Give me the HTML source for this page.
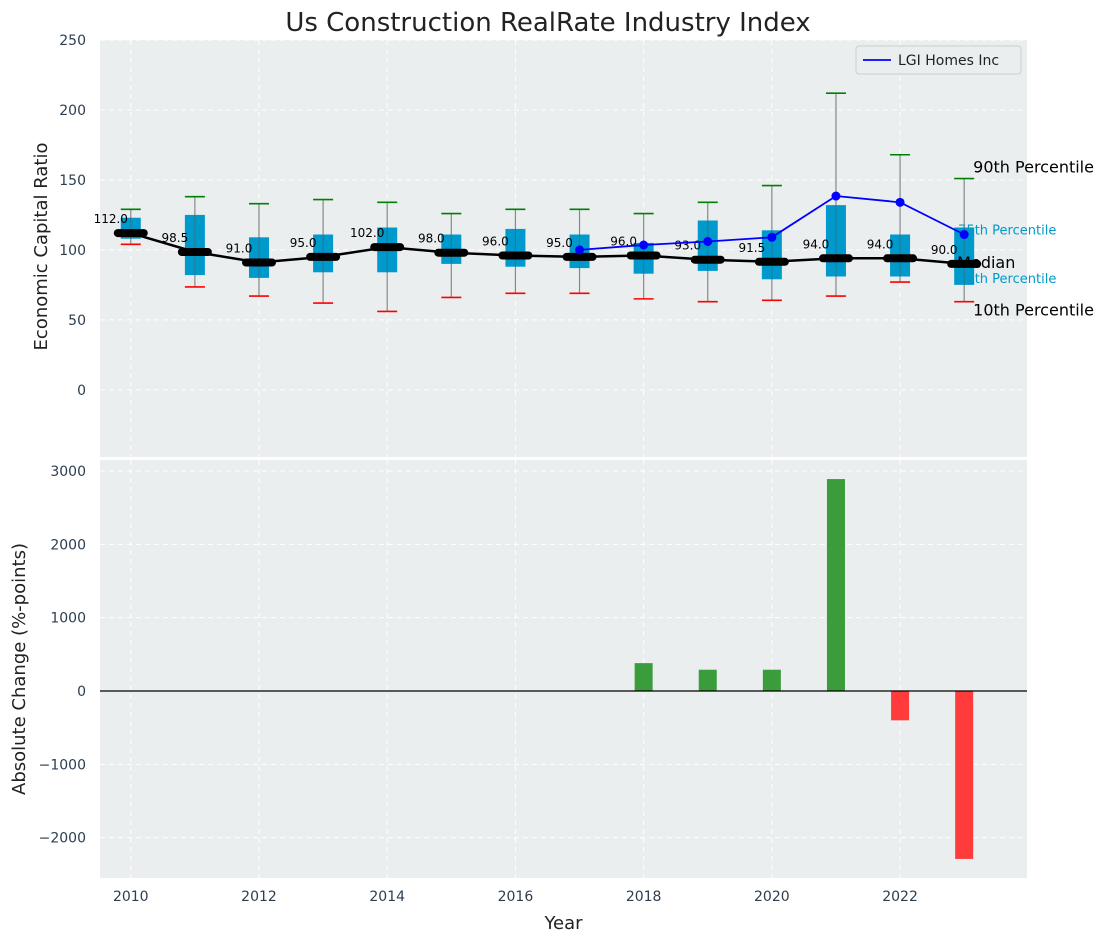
<!DOCTYPE html>
<html><head><meta charset="utf-8"><style>
body{margin:0;background:#fff;font-family:"Liberation Sans","DejaVu Sans",sans-serif}
svg text{font-family:"DejaVu Sans","Liberation Sans",sans-serif}
</style></head><body>
<svg id="c" width="1107" height="942" xmlns="http://www.w3.org/2000/svg">
<text x="548" y="31" font-size="26" text-anchor="middle" fill="#222">Us Construction RealRate Industry Index</text>
<g id="topPanel"></g>
<g id="botPanel"></g>
</svg>
<script>
const years=[2010,2011,2012,2013,2014,2015,2016,2017,2018,2019,2020,2021,2022,2023];
const medians=[112,98.5,91,95,102,98,96,95,96,93,91.5,94,94,90];
const p75=[123,125,109,111,116,111,115,111,105,121,114,132,111,116];
const p25=[108,82,80,84,84,90,88,87,83,85,79,81,81,75];
const p90=[129,138,133,136,134,126,129,129,126,134,146,212,168,151];
const p10=[104,73.5,67,62,56,66,69,69,65,63,64,67,77,63];
const lgiYears=[2017,2018,2019,2020,2021,2022,2023];
const lgiValues=[100,103.5,106,109,138.5,134,111];
const changeYears=[2018,2019,2020,2021,2022,2023];
const changeValues=[380,290,290,2890,-400,-2290];
const topTicks=[0,50,100,150,200,250];
const botTicks=[-2000,-1000,0,1000,2000,3000];
const xTicks=[2010,2012,2014,2016,2018,2020,2022];

const NS="http://www.w3.org/2000/svg";
const L=100,R=1027;
const xMin=2009.52,xMax=2023.98;
const X=v=>L+(v-xMin)/(xMax-xMin)*(R-L);
const tT=40,tB=457,tMin=-48,tMax=250;
const Yt=v=>tB-(v-tMin)/(tMax-tMin)*(tB-tT);
const bT=460,bB=878,bMin=-2550,bMax=3150;
const Yb=v=>bB-(v-bMin)/(bMax-bMin)*(bB-bT);
function el(p,tag,a,txt){const e=document.createElementNS(NS,tag);for(const k in a)e.setAttribute(k,a[k]);if(txt!==undefined)e.textContent=txt;p.appendChild(e);return e;}
const topG=document.getElementById('topPanel'),botG=document.getElementById('botPanel');
const tick={fill:"#2c3e50","font-size":14};

let bg=el(topG,'rect',{x:L,y:tT,width:R-L,height:tB-tT,fill:"#eaeeef"});


let bg2=el(botG,'rect',{x:L,y:bT,width:R-L,height:bB-bT,fill:"#eaeeef"});


xTicks.forEach(t=>{
  el(topG,'line',{x1:X(t),x2:X(t),y1:tT,y2:tB,stroke:"#fff","stroke-dasharray":"5,4","stroke-width":1});
  el(botG,'line',{x1:X(t),x2:X(t),y1:bT,y2:bB,stroke:"#fff","stroke-dasharray":"5,4","stroke-width":1});
  const tx=el(botG,'text',Object.assign({x:X(t),y:bB+23,"text-anchor":"middle"},tick),String(t));
  
  
});
topTicks.forEach(t=>{
  el(topG,'line',{x1:L,x2:R,y1:Yt(t),y2:Yt(t),stroke:"#fff","stroke-dasharray":"5,4","stroke-width":1});
  const tx=el(topG,'text',Object.assign({x:L-14,y:Yt(t)+5,"text-anchor":"end"},tick),String(t));
  
  
});
botTicks.forEach(t=>{
  el(botG,'line',{x1:L,x2:R,y1:Yb(t),y2:Yb(t),stroke:"#fff","stroke-dasharray":"5,4","stroke-width":1});
  const tx=el(botG,'text',Object.assign({x:L-14,y:Yb(t)+5,"text-anchor":"end"},tick),(t<0?"\u2212":"")+Math.abs(t));
  
  
});
const lx=X(2023);
[["90th Percentile",Yt(p90[13])-6,16,"#000",9],["75th Percentile",Yt(p75[13])+7,13,"#0099cc",-6],["25th Percentile",Yt(p25[13])-2,13,"#0099cc",-6],["10th Percentile",Yt(p10[13])+14,16,"#000",9]].forEach(a=>{
  const tx=el(topG,'text',{x:lx+a[4],y:a[1],"font-size":a[2],fill:a[3]},a[0]);
  
  
});
years.forEach((y,i)=>{
  const x=X(y),hw=10;
  const g=el(topG,'g',{});
  
  
  el(g,'line',{x1:x,x2:x,y1:Yt(p90[i]),y2:Yt(p10[i]),stroke:"#888","stroke-width":1.2});
  el(g,'rect',{x:x-hw,y:Yt(p75[i]),width:2*hw,height:Yt(p25[i])-Yt(p75[i]),fill:"#0099cc"});
  el(g,'line',{x1:x,x2:x,y1:Yt(p75[i]),y2:Yt(p25[i]),stroke:"#555","stroke-width":1,opacity:0.5});
  el(g,'line',{x1:x-10,x2:x+10,y1:Yt(p90[i]),y2:Yt(p90[i]),stroke:"green","stroke-width":1.6});
  el(g,'line',{x1:x-10,x2:x+10,y1:Yt(p10[i]),y2:Yt(p10[i]),stroke:"red","stroke-width":1.6});
});
const ml=el(topG,'text',{x:lx-7,y:Yt(medians[13])+4,"font-size":16,fill:"#000"},"Median");


const mp=el(topG,'polyline',{points:years.map((y,i)=>X(y)+","+Yt(medians[i])).join(" "),fill:"none",stroke:"#000","stroke-width":2.5});


years.forEach((y,i)=>{
  const m=el(topG,'line',{x1:X(y)-13,x2:X(y)+13,y1:Yt(medians[i]),y2:Yt(medians[i]),stroke:"#000","stroke-width":8,"stroke-linecap":"round"});
  
  
  const t=el(topG,'text',{x:X(y)-20,y:Yt(medians[i])-10,"font-size":12,"text-anchor":"middle",fill:"#000"},medians[i].toFixed(1));
  
  
});
const lp=el(topG,'polyline',{points:lgiYears.map((y,i)=>X(y)+","+Yt(lgiValues[i])).join(" "),fill:"none",stroke:"blue","stroke-width":1.8});


lgiYears.forEach((y,i)=>{
  const c=el(topG,'circle',{cx:X(y),cy:Yt(lgiValues[i]),r:4.5,fill:"blue"});
  
  
});
const lg=el(topG,'g',{});


el(lg,'rect',{x:856,y:46,width:165,height:28,fill:"#eaeeef",stroke:"#ccc",rx:3});
el(lg,'line',{x1:863,x2:891,y1:60,y2:60,stroke:"blue","stroke-width":1.8});
const lt=el(lg,'text',{x:898,y:65,"font-size":14,fill:"#222"},"LGI Homes Inc");


changeYears.forEach((y,i)=>{
  const v=changeValues[i],y0=Yb(0),y1=Yb(v);
  const b=el(botG,'rect',{x:X(y)-9,y:Math.min(y0,y1),width:18,height:Math.abs(y1-y0),fill:v>=0?"#3a9c3a":"#ff3b3b"});
  
  
});
el(botG,'line',{x1:L,x2:R,y1:Yb(0),y2:Yb(0),stroke:"#000","stroke-width":1.2});
const svg=document.getElementById('c');
let a1=el(svg,'text',{x:0,y:0,"font-size":18,fill:"#222","text-anchor":"middle",transform:`translate(47,${(tT+tB)/2-2}) rotate(-90)`},"Economic Capital Ratio");


let a2=el(svg,'text',{x:0,y:0,"font-size":18,fill:"#222","text-anchor":"middle",transform:`translate(25,${(bT+bB)/2}) rotate(-90)`},"Absolute Change (%-points)");


let a3=el(svg,'text',{x:(L+R)/2,y:929,"font-size":18,fill:"#222","text-anchor":"middle"},"Year");


</script>
</body></html>
